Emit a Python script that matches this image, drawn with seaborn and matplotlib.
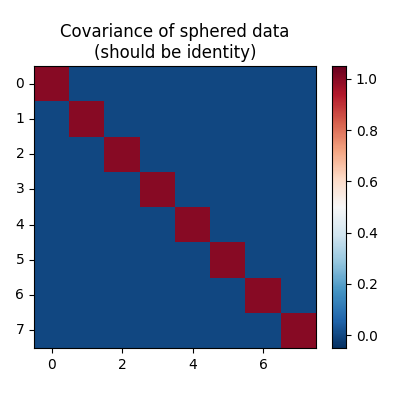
import numpy as np
import matplotlib
matplotlib.use("Agg")
import matplotlib.pyplot as plt
import seaborn as sns

n = 8
diag_values = [1.0] * n
off_value = 0.0
cov = np.full((n, n), off_value)
np.fill_diagonal(cov, diag_values)

fig = plt.figure(figsize=(4, 4), dpi=100)
ax = fig.add_axes([0.085, 0.13, 0.705, 0.705])
cax = fig.add_axes([0.83, 0.13, 0.035, 0.705])
sns.heatmap(cov, ax=ax, cbar_ax=cax, cmap="RdBu_r", vmin=-0.05, vmax=1.05,
            square=False)
ax.set_xticks(np.arange(0, n, 2) + 0.5)
ax.set_xticklabels([str(i) for i in range(0, n, 2)], rotation=0)
ax.set_yticks(np.arange(n) + 0.5)
ax.set_yticklabels([str(i) for i in range(n)], rotation=0)
ax.tick_params(length=3.5)
for s in ax.spines.values():
    s.set_visible(True)
ax.set_title("Covariance of sphered data\n(should be identity)")
cax.set_yticks([0, 0.2, 0.4, 0.6, 0.8, 1.0])
cax.set_yticklabels(["0.0", "0.2", "0.4", "0.6", "0.8", "1.0"])
cax.tick_params(length=3.5)
for s in cax.spines.values():
    s.set_visible(True)
fig.savefig("out.png", dpi=100)
